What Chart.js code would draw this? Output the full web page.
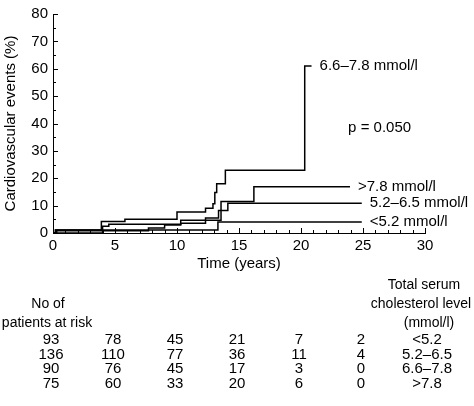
<!DOCTYPE html>
<html>
<head>
<meta charset="utf-8">
<script src="https://cdn.jsdelivr.net/npm/chart.js@4"></script>
<style>
  html, body { margin: 0; padding: 0; background: #fff; }
  canvas { display: block; }
</style>
</head>
<body>
<canvas id="km" width="474" height="406"></canvas>
<script>
// cumulative event curves: time of each step (years) and % after it; last entry = end of follow-up
const lowTimes = [0, 0.2, 13.3, 24.9]
const lowValues = [0, 1.1, 4.0, 4.0]
const midTimes = [0, 0.3, 7.7, 9.0, 10.3, 12.3, 13.35, 14.1, 24.9]
const midValues = [0, 0.8, 1.8, 2.9, 3.6, 5.5, 8.2, 10.9, 10.9]
const highTimes = [0, 0.2, 3.9, 5.8, 10.0, 12.3, 12.9, 13.05, 13.2, 13.9, 20.3, 20.85]
const highValues = [0, 1.1, 4.2, 5.0, 7.7, 9.0, 10.7, 14.8, 18.0, 22.9, 61.0, 61.0]
const topTimes = [0, 4.0, 4.5, 10.3, 13.55, 16.2, 23.95]
const topValues = [0, 2.5, 3.2, 4.7, 11.5, 16.9, 16.9]

const curveLabels = ['<5.2 mmol/l', '5.2–6.5 mmol/l', '6.6–7.8 mmol/l', '>7.8 mmol/l']
const pValueText = 'p = 0.050'

// numbers at risk
const riskTimes = [0, 5, 10, 15, 20, 25]
const riskLow = [93, 78, 45, 21, 7, 2]
const riskMid = [136, 110, 77, 36, 11, 4]
const riskHigh = [90, 76, 45, 17, 3, 0]
const riskTop = [75, 60, 33, 20, 6, 0]
const groupNames = ['<5.2', '5.2–6.5', '6.6–7.8', '>7.8']

Chart.defaults.font.family = '"Liberation Sans", Arial, sans-serif'
Chart.defaults.color = '#000'

function toPoints(times, values) {
  return times.map((t, i) => ({ x: t, y: values[i] }))
}

const curves = [
  toPoints(lowTimes, lowValues),
  toPoints(midTimes, midValues),
  toPoints(highTimes, highValues),
  toPoints(topTimes, topValues)
]

const axisTicks = {
  id: 'axisTicks',
  afterDraw(chart) {
    const { ctx, scales: { x, y } } = chart
    ctx.save()
    ctx.strokeStyle = '#000'
    ctx.lineWidth = 1
    ctx.beginPath()
    for (let v = 0; v <= 80; v += 5) {
      const py = Math.round(y.getPixelForValue(v)) + 0.5
      ctx.moveTo(x.left, py)
      ctx.lineTo(x.left + (v % 10 === 0 ? 5 : 3), py)
    }
    for (let t = 0; t <= 30; t += 1) {
      const px = Math.round(x.getPixelForValue(t)) + 0.5
      ctx.moveTo(px, y.bottom)
      ctx.lineTo(px, y.bottom - (t % 5 === 0 ? 5 : 3))
    }
    ctx.stroke()
    ctx.restore()
  }
}

const endLabels = {
  id: 'endLabels',
  afterDatasetsDraw(chart) {
    const { ctx, scales: { x, y } } = chart
    ctx.save()
    ctx.fillStyle = '#000'
    ctx.font = '15px "Liberation Sans", Arial, sans-serif'
    ctx.textBaseline = 'middle'
    ctx.textAlign = 'left'
    curves.forEach((pts, i) => {
      const last = pts[pts.length - 1]
      ctx.fillText(curveLabels[i], x.getPixelForValue(last.x) + 8, y.getPixelForValue(last.y))
    })
    ctx.fillText(pValueText, x.getPixelForValue(23.8), y.getPixelForValue(38.5))
    ctx.restore()
  }
}

const riskTable = {
  id: 'riskTable',
  afterDraw(chart) {
    const { ctx, scales: { x } } = chart
    const rows = [riskLow, riskMid, riskHigh, riskTop]
    const rowY = [340, 354.5, 369, 383.5]
    const labelX = x.getPixelForValue(30) + 2
    ctx.save()
    ctx.fillStyle = '#000'
    ctx.font = '14px "Liberation Sans", Arial, sans-serif'
    ctx.textBaseline = 'middle'
    ctx.textAlign = 'center'
    ctx.fillText('No of', 48, 304)
    ctx.fillText('patients at risk', 47, 323)
    ctx.fillText('Total serum', 424, 285)
    ctx.fillText('cholesterol level', 421, 304)
    ctx.fillText('(mmol/l)', 429, 323)
    ctx.font = '15px "Liberation Sans", Arial, sans-serif'
    rows.forEach((row, r) => {
      row.forEach((n, c) => {
        ctx.fillText(String(n), x.getPixelForValue(riskTimes[c]) - 2, rowY[r])
      })
      ctx.fillText(groupNames[r], labelX, rowY[r])
    })
    ctx.restore()
  }
}

new Chart(document.getElementById('km'), {
  type: 'scatter',
  data: {
    datasets: curves.map((pts, i) => ({
      label: curveLabels[i],
      data: pts,
      showLine: true,
      stepped: true,
      borderColor: '#000',
      borderWidth: 1.5,
      pointRadius: 0,
      fill: false
    }))
  },
  options: {
    responsive: false,
    animation: false,
    layout: { padding: { top: 10, right: 49, bottom: 133, left: 0 } },
    plugins: {
      legend: { display: false },
      tooltip: { enabled: false }
    },
    scales: {
      x: {
        type: 'linear',
        min: 0,
        max: 30,
        ticks: { stepSize: 5, color: '#000', font: { size: 15 }, padding: 4 },
        grid: { display: false, drawTicks: false },
        border: { display: true, color: '#000', width: 1 },
        title: { display: true, text: 'Time (years)', color: '#000', font: { size: 15 }, padding: { top: 0, bottom: 0 } },
        afterFit: (s) => { s.height = 40 }
      },
      y: {
        min: 0,
        max: 80,
        ticks: { stepSize: 10, color: '#000', font: { size: 15 }, padding: 5 },
        grid: { display: false, drawTicks: false },
        border: { display: true, color: '#000', width: 1 },
        title: { display: true, text: 'Cardiovascular events (%)', color: '#000', font: { size: 15 }, padding: { top: 2, bottom: 0 } },
        afterFit: (s) => { s.width = 53 }
      }
    }
  },
  plugins: [axisTicks, endLabels, riskTable]
})
</script>
</body>
</html>
